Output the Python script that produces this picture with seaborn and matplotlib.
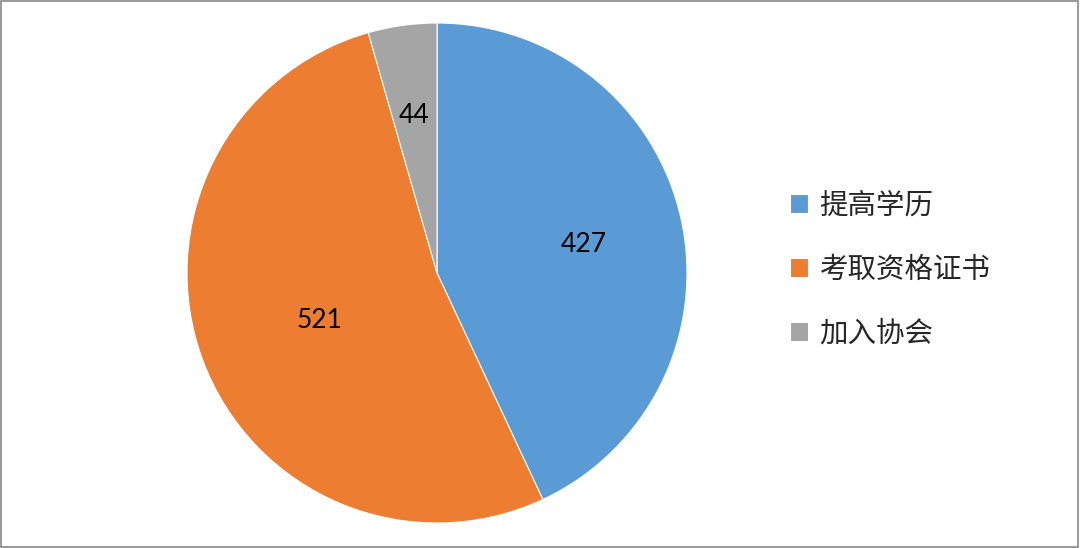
import numpy as np
import seaborn as sns
import matplotlib.pyplot as plt
from matplotlib.patches import Rectangle

# Data
categories = ['提高学历', '考取资格证书', '加入协会']
counts = [427, 521, 44]
colors = ['#5B9BD5', '#ED7D31', '#A5A5A5']
label_dist = [0.60, 0.50, 0.65]

sns.set_style('white')
plt.rcParams['font.family'] = ['Noto Sans CJK SC', 'DejaVu Sans']

fig = plt.figure(figsize=(10.8, 5.48), dpi=100)
ax = fig.add_axes([187 / 1080, 25 / 548, 500 / 1080, 500 / 548])

wedges, _ = ax.pie(counts, colors=colors, startangle=90, counterclock=False,
                   radius=1, wedgeprops=dict(edgecolor='white', linewidth=0.8))
ax.set_xlim(-1, 1)
ax.set_ylim(-1, 1)
ax.set_aspect('equal')
ax.axis('off')

# value labels at the middle angle of each slice
for w, v, d in zip(wedges, counts, label_dist):
    ang = np.deg2rad((w.theta1 + w.theta2) / 2)
    ax.text(d * np.cos(ang), d * np.sin(ang) - 0.015, str(v), ha='center', va='center',
            fontsize=19, family=['Lato', 'DejaVu Sans'], color='black')

fig.legend(wedges, categories, loc='center left', bbox_to_anchor=(764 / 1080, 0.508),
           frameon=False, fontsize=20.5, handlelength=0.65, handleheight=0.65,
           handletextpad=0.4, labelspacing=1.2)

fig.add_artist(Rectangle((0.001, 0.002), 0.997, 0.996, transform=fig.transFigure,
                         fill=False, edgecolor='#898989', linewidth=1.2))

plt.savefig('out.png', dpi=100)
